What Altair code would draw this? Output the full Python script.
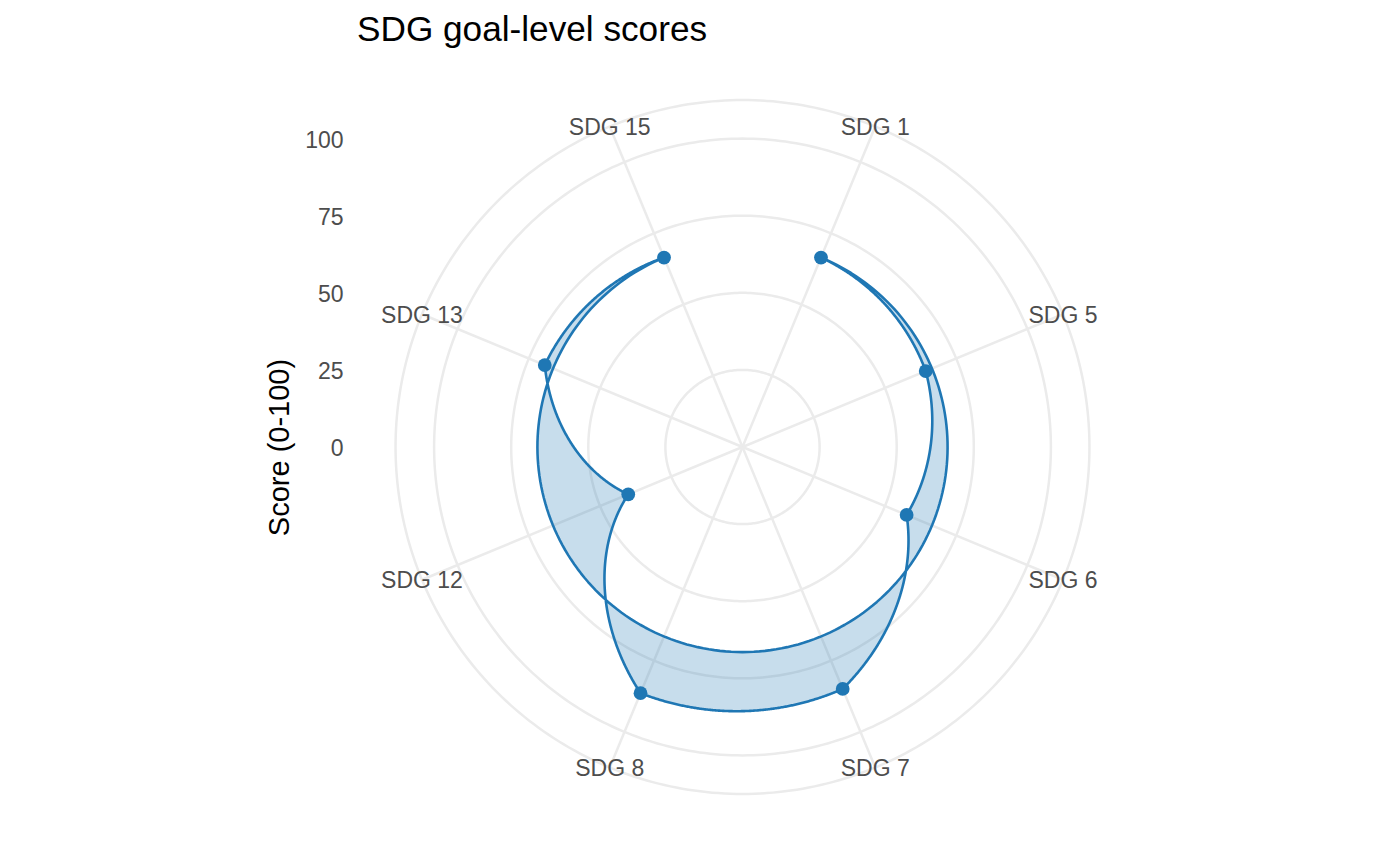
import altair as alt
import pandas as pd

# ---- data ----
categories = ["SDG 1", "SDG 5", "SDG 6", "SDG 7", "SDG 8", "SDG 12", "SDG 13", "SDG 15"]
scores = [66.5, 64.3, 57.6, 84.9, 86.4, 40.1, 69.4, 66.5]
ring_breaks = [25, 50, 75, 100]
y_ticks = [0, 25, 50, 75, 100]

BLUE = "#1F77B4"
GRID = "#EBEBEB"
TXT = "#4D4D4D"
FONT = "Liberation Sans"

N = len(categories)
R_OUTER = 112.5   # outer grid circle (ggplot's 0.45 vs 0.4 for 100)
HALF = 125        # half panel in score units

positions = list(range(1, N + 1))
pts = pd.DataFrame({"cat": categories, "pos": positions, "score": scores})
segs = pts.assign(pos_next=positions[1:] + positions[:1],
                  score_next=scores[1:] + scores[:1])
rings = pd.DataFrame({"r": ring_breaks + [R_OUTER]})

xs = alt.Scale(domain=[-HALF, HALF], nice=False, zero=False)
ys = alt.Scale(domain=[-HALF, HALF], nice=False, zero=False)

Y_AXIS = alt.Axis(
    values=y_ticks, title="Score (0-100)", grid=False, domain=False,
    ticks=False, tickSize=0, labelPadding=14, labelOffset=1.5, labelColor=TXT,
    labelFontSize=23, labelFont=FONT, titleFont=FONT, titleFontSize=29,
    titleFontWeight="normal", titleColor="black", titlePadding=10,
)


def X(field):
    return alt.X(field, scale=xs, axis=None)


def Y(field):
    return alt.Y(field, scale=ys, axis=Y_AXIS)


ANG = f"(datum.p - 0.5) / {N} * 2 * PI"

ring_layer = alt.Chart(rings).transform_calculate(
    deg="sequence(0, 360.001, 1)"
).transform_flatten(["deg"]).transform_calculate(
    x="datum.r * sin(datum.deg * PI / 180)",
    y="datum.r * cos(datum.deg * PI / 180)",
).mark_line(stroke=GRID, strokeWidth=2.5).encode(
    x=X("x:Q"),
    y=Y("y:Q"),
    detail="r:N",
    order="deg:Q",
)

spokes = alt.Chart(pts).transform_calculate(
    p="datum.pos",
).transform_calculate(
    a=ANG,
).transform_calculate(
    x0="0", y0="0",
    x1=f"{R_OUTER} * sin(datum.a)",
    y1=f"{R_OUTER} * cos(datum.a)",
).mark_rule(stroke=GRID, strokeWidth=2.5).encode(
    x=X("x0:Q"),
    y=Y("y0:Q"),
    x2="x1:Q",
    y2="y1:Q",
)

poly = alt.Chart(segs).transform_calculate(
    t="sequence(0, 1.00001, 0.005)"
).transform_flatten(["t"]).transform_calculate(
    p="datum.pos + datum.t * (datum.pos_next - datum.pos)",
    r="datum.score + datum.t * (datum.score_next - datum.score)",
    ord="datum.pos + datum.t",
).transform_calculate(
    a=ANG,
).transform_calculate(
    x="datum.r * sin(datum.a)",
    y="datum.r * cos(datum.a)",
).mark_line(stroke=BLUE, strokeWidth=2.6, fill=BLUE, fillOpacity=0.25,
            strokeJoin="round").encode(
    x=X("x:Q"),
    y=Y("y:Q"),
    order="ord:Q",
)

points = alt.Chart(pts).transform_calculate(
    p="datum.pos",
).transform_calculate(
    a=ANG,
).transform_calculate(
    x="datum.score * sin(datum.a)",
    y="datum.score * cos(datum.a)",
).mark_circle(color=BLUE, opacity=1, size=190).encode(
    x=X("x:Q"),
    y=Y("y:Q"),
)

labels = alt.Chart(pts).transform_calculate(
    p="datum.pos",
).transform_calculate(
    a=ANG,
).transform_calculate(
    x=f"{R_OUTER} * sin(datum.a)",
    y=f"{R_OUTER} * cos(datum.a)",
).mark_text(color=TXT, fontSize=23, font=FONT, align="center",
            baseline="middle", dy=1.5).encode(
    x=X("x:Q"),
    y=Y("y:Q"),
    text="cat:N",
)

chart = alt.layer(ring_layer, spokes, poly, points, labels).properties(
    width=771,
    height=771,
    background="white",
    title=alt.TitleParams("SDG goal-level scores", anchor="start", frame="group",
                          font=FONT, fontSize=35.2, fontWeight="normal",
                          color="black", baseline="alphabetic", offset=20.5,
                          dy=35),
    autosize=alt.AutoSizeParams(type="none"),
    padding={"left": 349, "top": 53.5, "right": 0, "bottom": 0},
).configure_view(stroke=None)

chart.save("out.html", embed_options={"renderer": "svg", "actions": False})
